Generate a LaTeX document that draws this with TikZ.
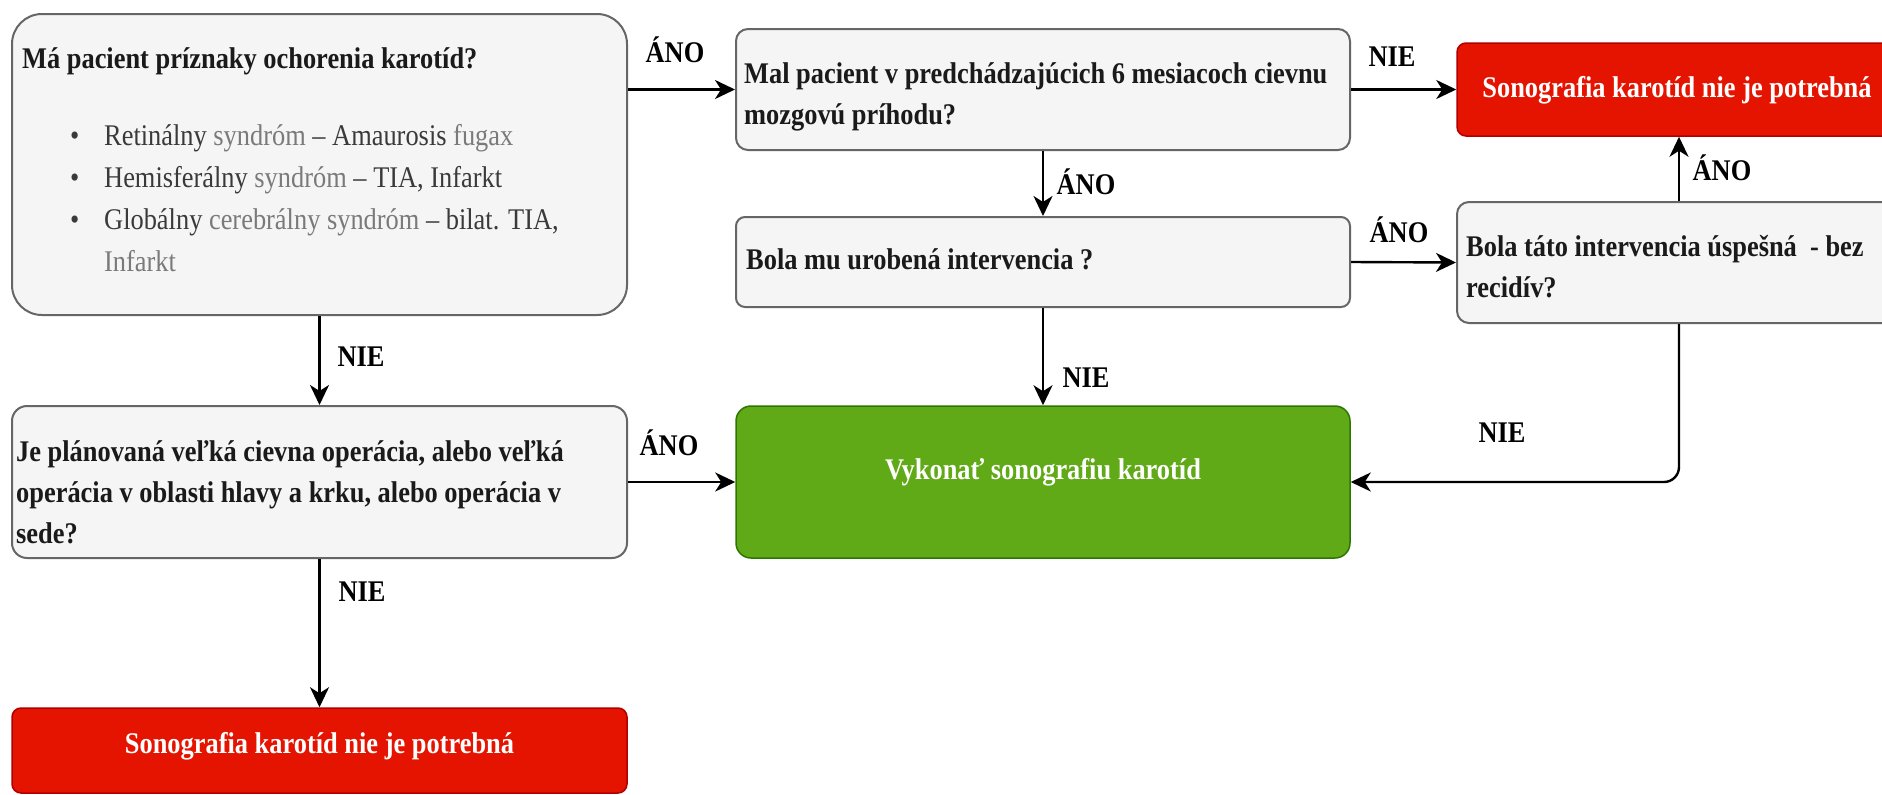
\documentclass[tikz,border=0pt]{standalone}
\usepackage{fontspec}
\setmainfont{Liberation Serif}[FakeStretch=0.88]
\usetikzlibrary{arrows.meta}
\definecolor{boxfill}{HTML}{F5F5F5}
\definecolor{boxline}{HTML}{666666}
\definecolor{redfill}{HTML}{E51400}
\definecolor{redline}{HTML}{B20000}
\definecolor{greenfill}{HTML}{60A917}
\definecolor{greenline}{HTML}{2D7600}
\definecolor{txtdark}{HTML}{1A1A1A}
\definecolor{itemdark}{HTML}{3A3A3A}
\definecolor{itemgrey}{HTML}{7A7A7A}
\tikzset{
  x=1pt, y=-1pt,
  every node/.style={font=\fontsize{30}{41}\selectfont},
  box/.style={draw=boxline, fill=boxfill, line width=2pt, inner sep=0pt},
  redbox/.style={draw=redline, fill=redfill, line width=1.5pt, inner sep=0pt},
  greenbox/.style={draw=greenline, fill=greenfill, line width=1.5pt, inner sep=0pt},
  % multi-line texts are placed by the baseline of their last line
  txt/.style={anchor=base west, align=left, inner sep=0pt, text=txtdark, font=\fontsize{30}{41}\selectfont\bfseries},
  wtxt/.style={anchor=base, inner sep=0pt, text=white, font=\fontsize{30}{41}\selectfont\bfseries},
  lbl/.style={inner sep=0pt, text=black, font=\fontsize{30}{41}\selectfont\bfseries},
  arr/.style={line width=2.4pt, draw=black, -{Stealth[length=20pt, width=19pt, inset=6pt]}}
}
\begin{document}
\begin{tikzpicture}
\useasboundingbox (0,0) rectangle (1882,795);
\fill[white] (0,0) rectangle (1882,795);
\clip (0,0) rectangle (1882,795);

% question and result boxes
\node[box, rounded corners=30pt, minimum width=615pt, minimum height=301pt] (A) at (319.5,164.5) {};
\node[box, rounded corners=12pt, minimum width=614pt, minimum height=121pt] (B) at (1043,89.5) {};
\node[box, rounded corners=9pt, minimum width=614pt, minimum height=90pt] (C) at (1043,262) {};
\node[greenbox, rounded corners=15pt, minimum width=614pt, minimum height=152pt] (G) at (1043,482) {};
\node[box, rounded corners=15pt, minimum width=615pt, minimum height=152pt] (E) at (319.5,482) {};
\node[redbox, rounded corners=9pt, minimum width=615pt, minimum height=85pt] (R2) at (319.5,750.5) {};
\node[redbox, rounded corners=9pt, minimum width=444pt, minimum height=93pt] (R1) at (1679,89.5) {};
\node[box, rounded corners=12pt, minimum width=444pt, minimum height=121pt] (D) at (1679,262.5) {};

% box texts
\node[txt] (tA) at (22,271) {Má pacient príznaky ochorenia karotíd?\\[36pt]
  \mdseries\hspace*{48pt}\makebox[34pt][l]{\color{itemdark}•}\textcolor{itemdark}{Retinálny} \textcolor{itemgrey}{syndróm} \textcolor{itemdark}{– Amaurosis} \textcolor{itemgrey}{fugax}\\[1pt]
  \mdseries\hspace*{48pt}\makebox[34pt][l]{\color{itemdark}•}\textcolor{itemdark}{Hemisferálny} \textcolor{itemgrey}{syndróm} \textcolor{itemdark}{– TIA, Infarkt}\\[1pt]
  \mdseries\hspace*{48pt}\makebox[34pt][l]{\color{itemdark}•}\textcolor{itemdark}{Globálny} \textcolor{itemgrey}{cerebrálny syndróm} \textcolor{itemdark}{– bilat. TIA,}\\[1pt]
  \mdseries\hspace*{82pt}\textcolor{itemgrey}{Infarkt}};
\node[txt] (tB) at (744,124) {Mal pacient v predchádzajúcich 6 mesiacoch cievnu\\mozgovú príhodu?};
\node[txt] (tC) at (746,269) {Bola mu urobená intervencia ?};
\node[txt] (tD) at (1466,297) {Bola táto intervencia úspešná \ - bez\\recidív?};
\node[txt] (tE) at (16,543) {Je plánovaná veľká cievna operácia, alebo veľká\\operácia v oblasti hlavy a krku, alebo operácia v\\sede?};
\node[wtxt] (tR1) at (1677,97) {Sonografia karotíd nie je potrebná};
\node[wtxt] (tR2) at (319.5,753) {Sonografia karotíd nie je potrebná};
\node[wtxt] (tG) at (1043,479) {Vykonať sonografiu karotíd};

% connectors
\draw[arr] (A.east |- B.west) -- (B.west);
\draw[arr] (B.east) -- (R1.west);
\draw[arr] (B.south) -- (C.north);
\draw[arr] (C.east) -- (D.west);
\draw[arr] (D.north) -- (R1.south);
\draw[arr] (C.south) -- (G.north);
\draw[arr, rounded corners=15pt] (D.south) -- (D.south |- G.east) -- (G.east);
\draw[arr] (A.south) -- (E.north);
\draw[arr] (E.east) -- (G.west);
\draw[arr] (E.south) -- (R2.north);

% connector labels
\node[lbl] (l1) at (675,50) {ÁNO};
\node[lbl] (l2) at (1392,57) {NIE};
\node[lbl] (l3) at (1086,182) {ÁNO};
\node[lbl] (l4) at (1399,230) {ÁNO};
\node[lbl] (l5) at (1722,168) {ÁNO};
\node[lbl] (l6) at (1086,378) {NIE};
\node[lbl] (l7) at (1502,433) {NIE};
\node[lbl] (l8) at (361,357) {NIE};
\node[lbl] (l9) at (669,443) {ÁNO};
\node[lbl] (l10) at (362,592) {NIE};
\end{tikzpicture}
\end{document}
